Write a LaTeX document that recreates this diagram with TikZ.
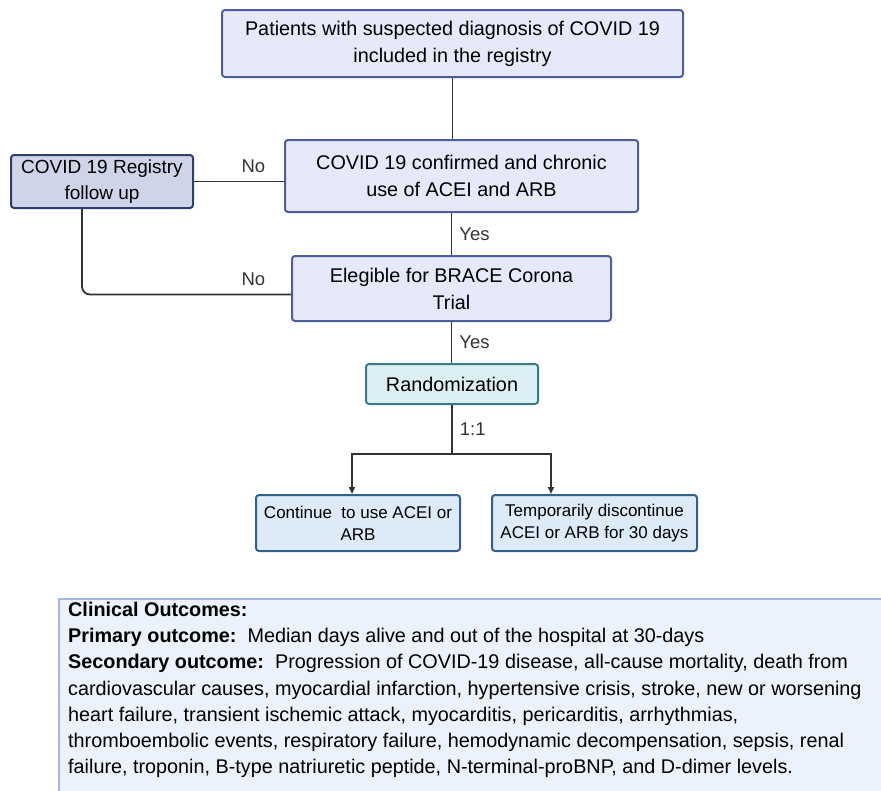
\documentclass[tikz,border=0pt]{standalone}
\usepackage{fontspec}
\setmainfont{Liberation Sans}
\usetikzlibrary{arrows.meta,calc}
\newcommand{\XSpine}{453}
\newcommand{\LblSize}{\fontsize{18.5}{24}\selectfont}
\definecolor{mainFill}{RGB}{229,233,250}
\definecolor{mainStroke}{RGB}{78,94,152}
\definecolor{regFill}{RGB}{206,213,233}
\definecolor{regStroke}{RGB}{48,62,104}
\definecolor{randFill}{RGB}{219,239,245}
\definecolor{randStroke}{RGB}{62,122,138}
\definecolor{armFill}{RGB}{221,234,248}
\definecolor{armStroke}{RGB}{52,96,140}
\definecolor{outFill}{RGB}{235,242,252}
\definecolor{outStroke}{RGB}{162,184,226}
\colorlet{wireColor}{black!80}

\begin{document}
\begin{tikzpicture}[
  x=1pt, y=1pt,
  >={Triangle[length=7pt,width=6pt]},
  flowbox/.style = {draw=mainStroke, fill=mainFill, line width=2pt,
                    rounded corners=3pt, align=center, inner sep=0pt,
                    font=\fontsize{19.8}{27}\selectfont},
  regbox/.style  = {flowbox, draw=regStroke, fill=regFill,
                    font=\fontsize{19}{26}\selectfont},
  randbox/.style = {flowbox, draw=randStroke, fill=randFill},
  armbox/.style  = {flowbox, draw=armStroke, fill=armFill,
                    font=\fontsize{17}{22}\selectfont},
  wire/.style    = {wireColor, line width=1.8pt},
  lbl/.style     = {font=\LblSize, inner sep=0pt},
]
\useasboundingbox (0,0) rectangle (881,-790);

% ----------------------------------------------------------------
% Screening boxes
% ----------------------------------------------------------------
\node[flowbox, minimum width=461, minimum height=67]
  (patients) at (452.5,-43.5)
  {Patients with suspected diagnosis of COVID 19\\included in the registry};

\node[flowbox, minimum width=353, minimum height=72]
  (confirmed) at (461.5,-176)
  {COVID 19 confirmed and chronic\\use of ACEI and ARB};

\node[regbox, minimum width=182, minimum height=53]
  (registry) at (102,-181.5) {COVID 19 Registry\\follow up};

\node[flowbox, minimum width=319, minimum height=65]
  (elig) at (451.5,-288.5) {Elegible for BRACE Corona\\Trial};

\node[randbox, minimum width=172, minimum height=40]
  (rand) at (452,-384) {Randomization};

% ----------------------------------------------------------------
% Study arms
% ----------------------------------------------------------------
\node[armbox, minimum width=204, minimum height=56]
  (cont) at (358,-523) {Continue\ \ to use ACEI or\\ARB};

\node[armbox, minimum width=205, minimum height=56]
  (stop) at (594.5,-523) {Temporarily discontinue\\ACEI or ARB for 30 days};

% ----------------------------------------------------------------
% Connections
% ----------------------------------------------------------------
\draw[wire] (patients.south) -- (patients.south |- confirmed.north);

\draw[wire] (registry.east -| confirmed.west)
  -- node[lbl, above=8pt, pos=0.34] (noA) {No} (registry.east);

\draw[wire] (elig.north |- confirmed.south)
  -- node[lbl, right=7pt] (yesA) {Yes} (elig.north);

\draw[wire, rounded corners=8pt] ([yshift=-6pt]elig.west)
  -| node[lbl, above=8pt, pos=0.09] (noB) {No} ([xshift=-20pt]registry.south);

\draw[wire] (elig.south) -- node[lbl, right=7pt] (yesB) {Yes}
  (elig.south |- rand.north);

\coordinate (split) at ($(rand.south)+(0,-49)$);
\draw[wire] (rand.south) -- node[lbl, right=7pt] (ratio) {1:1} (split);
\draw[wire, ->] (split) -| ([xshift=-6pt]cont.north);
\draw[wire, ->] (split) -| ([xshift=-43.5pt]stop.north);

% ----------------------------------------------------------------
% Outcomes panel
% ----------------------------------------------------------------
\node[draw=outStroke, fill=outFill, line width=1.8pt, anchor=north west,
      minimum width=860, minimum height=220, inner sep=0pt]
  (outbox) at (58,-598) {};

\node[anchor=north west, align=left, inner sep=0pt,
      font=\fontsize{19.8}{26.2}\selectfont]
  (outtext) at (68,-602)
  {\textbf{Clinical Outcomes:}\\
   \textbf{Primary outcome:}\ \ Median days alive and out of the hospital at 30-days\\
   \textbf{Secondary outcome:}\ \ Progression of COVID-19 disease, all-cause mortality, death from\\
   cardiovascular causes, myocardial infarction, hypertensive crisis, stroke, new or worsening\\
   heart failure, transient ischemic attack, myocarditis, pericarditis, arrhythmias,\\
   thromboembolic events, respiratory failure, hemodynamic decompensation, sepsis, renal\\
   failure, troponin, B-type natriuretic peptide, N-terminal-proBNP, and D-dimer levels.};

\end{tikzpicture}
\end{document}
